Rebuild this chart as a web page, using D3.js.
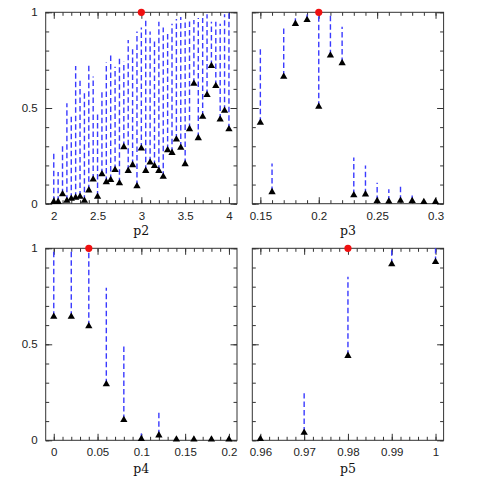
<!DOCTYPE html>
<html>
<head>
<meta charset="utf-8">
<script src="https://cdn.jsdelivr.net/npm/d3@7/dist/d3.min.js"></script>
<style>
  body { margin: 0; background: #fff; }
  svg { display: block; }
</style>
</head>
<body>
<script>
// ---- data ----
var p2X = [2, 2.05, 2.1, 2.15, 2.2, 2.25, 2.3, 2.35, 2.4, 2.45, 2.5, 2.55, 2.6, 2.65, 2.7, 2.75, 2.8, 2.85, 2.9, 2.95,
           3, 3.05, 3.1, 3.15, 3.2, 3.25, 3.3, 3.35, 3.4, 3.45, 3.5, 3.55, 3.6, 3.65, 3.7, 3.75, 3.8, 3.85, 3.9, 3.95, 4];
var p2Low = [0.01, 0.01, 0.05, 0.016, 0.026, 0.031, 0.037, 0.016, 0.07, 0.127, 0.037, 0.154, 0.113, 0.124, 0.176, 0.107,
             0.296, 0.172, 0.202, 0.092, 0.289, 0.172, 0.216, 0.197, 0.172, 0.141, 0.28, 0.266, 0.336, 0.293, 0.207,
             0.39, 0.627, 0.343, 0.455, 0.568, 0.72, 0.615, 0.44, 0.486, 0.389];
var p2High = [0.263, 0.165, 0.307, 0.525, 0.46, 0.72, 0.643, 0.577, 0.735, 0.664, 0.472, 0.598, 0.738, 0.78, 0.715, 0.772,
              0.742, 0.855, 0.807, 0.9, 0.92, 0.97, 0.9, 0.86, 0.95, 0.92, 0.89, 0.94, 0.965, 0.975, 0.96,
              0.965, 0.96, 0.97, 0.97, 0.99, 0.95, 0.95, 0.94, 0.99, 0.995];

var p3X = [0.15, 0.16, 0.17, 0.18, 0.19, 0.2, 0.21, 0.22, 0.23, 0.24, 0.25, 0.26, 0.27, 0.28, 0.29, 0.3];
var p3Low = [0.423, 0.061, 0.664, 0.94, 0.96, 0.507, 0.775, 0.735, 0.045, 0.049, 0.014, 0.012, 0.016, 0.014, 0.009, 0.01];
var p3High = [0.812, 0.21, 0.916, 0.977, 0.995, 0.995, 0.986, 0.925, 0.242, 0.199, 0.11, 0.075, 0.1, 0.045, 0.014, 0.012];

var p4X = [0, 0.02, 0.04, 0.06, 0.08, 0.1, 0.12, 0.14, 0.16, 0.18, 0.2];
var p4Low = [0.644, 0.644, 0.594, 0.292, 0.106, 0.007, 0.026, 0.005, 0.005, 0.005, 0.005];
var p4High = [0.99, 0.99, 0.99, 0.795, 0.497, 0.036, 0.149, 0.01, 0.008, 0.008, 0.008];

var p5X = [0.96, 0.97, 0.98, 0.99, 1];
var p5Low = [0.007, 0.04, 0.44, 0.917, 0.929];
var p5High = [0.01, 0.245, 0.852, 1, 1];

var paramNames = ["p2", "p3", "p4", "p5"];
var bestValue = [3, 0.2, 0.04, 0.98];

var p2Ticks = [2, 2.5, 3, 3.5, 4];
var p3Ticks = [0.15, 0.2, 0.25, 0.3];
var p4Ticks = [0, 0.05, 0.1, 0.15, 0.2];
var p5Ticks = [0.96, 0.97, 0.98, 0.99, 1];
var minorStep = [0.1, 0.01, 0.01, 0.002];
var yTicks = [0, 0.5, 1];

// ---- layout ----
var W = 485, H = 485;
var cols = [45.7, 252.3], colW = 191.3;
var rows = [12.3, 248.3], rowH = [191.4, 192];
var labelDrop = [31.5, 33];

var svg = d3.select("body").append("svg").attr("width", W).attr("height", H);

var panels = [
  { xs: p2X, lo: p2Low, hi: p2High, ticks: p2Ticks },
  { xs: p3X, lo: p3Low, hi: p3High, ticks: p3Ticks },
  { xs: p4X, lo: p4Low, hi: p4High, ticks: p4Ticks },
  { xs: p5X, lo: p5Low, hi: p5High, ticks: p5Ticks }
];

function fmt(d) { return String(+d.toFixed(4)); }

function minorList(domain, step) {
  var out = [];
  var start = Math.ceil(domain[0] / step - 1e-9);
  for (var k = start; k * step <= domain[1] + 1e-9; k++) out.push(+(k * step).toFixed(6));
  return out;
}

panels.forEach(function (p, i) {
  var c = i % 2, r = Math.floor(i / 2);
  var left = cols[c], top = rows[r], w = colW, h = rowH[r];
  var ext = d3.extent(p.xs), pad = (ext[1] - ext[0]) * 0.046;
  var x = d3.scaleLinear().domain([ext[0] - pad, ext[1] + pad]).range([0, w]);
  var y = d3.scaleLinear().domain([0, 1]).range([h, 0]);

  var g = svg.append("g").attr("transform", "translate(" + left + "," + top + ")");

  var minX = minorList(x.domain(), minorStep[i]);
  var minY = minorList([0, 1], 0.1);

  function addAxis(axisFn, scale, vals, size, tr, labels) {
    var a = axisFn(scale).tickValues(vals).tickSizeInner(-size).tickSizeOuter(0).tickPadding(8);
    a.tickFormat(labels ? fmt : "");
    var ag = g.append("g").attr("transform", tr).call(a);
    ag.select(".domain").remove();
    ag.selectAll("text").attr("fill", "#222").attr("font-family", "Liberation Sans, Arial, sans-serif").attr("font-size", 11.5);
    ag.selectAll(".tick line").attr("stroke", "#333");
    return ag;
  }

  // minor ticks on all sides
  addAxis(d3.axisBottom, x, minX, 3.5, "translate(0," + h + ")", false);
  addAxis(d3.axisTop, x, minX, 3.5, "translate(0,0)", false);
  addAxis(d3.axisLeft, y, minY, 3.5, "translate(0,0)", false);
  addAxis(d3.axisRight, y, minY, 3.5, "translate(" + w + ",0)", false);
  // major ticks
  addAxis(d3.axisBottom, x, p.ticks, 6.5, "translate(0," + h + ")", true);
  addAxis(d3.axisTop, x, p.ticks, 6.5, "translate(0,0)", false);
  addAxis(d3.axisLeft, y, yTicks, 6.5, "translate(0,0)", c === 0);
  addAxis(d3.axisRight, y, yTicks, 6.5, "translate(" + w + ",0)", false);

  g.append("rect").attr("width", w).attr("height", h)
    .attr("fill", "none").attr("stroke", "#333").attr("stroke-width", 1);

  var rowsData = p.xs.map(function (v, k) { return { x: v, lo: p.lo[k], hi: p.hi[k] }; });

  g.selectAll("line.rng").data(rowsData).enter().append("line")
    .attr("class", "rng")
    .attr("x1", function (d) { return x(d.x); })
    .attr("x2", function (d) { return x(d.x); })
    .attr("y1", function (d) { return y(d.lo); })
    .attr("y2", function (d) { return y(d.hi); })
    .attr("stroke", "#3a3aff")
    .attr("stroke-width", 1.4)
    .attr("stroke-dasharray", "5.5,3");

  g.selectAll("path.tri").data(rowsData).enter().append("path")
    .attr("class", "tri")
    .attr("d", d3.symbol().type(d3.symbolTriangle).size(23))
    .attr("transform", function (d) { return "translate(" + x(d.x) + "," + y(d.lo) + ")"; })
    .attr("fill", "#000");

  g.append("circle")
    .attr("cx", x(bestValue[i])).attr("cy", y(1)).attr("r", 3.6)
    .attr("fill", "#f01010");

  g.append("text")
    .attr("x", w / 2).attr("y", h + labelDrop[r])
    .attr("text-anchor", "middle")
    .attr("font-family", "DejaVu Serif, serif")
    .attr("font-size", 12.5)
    .attr("fill", "#111")
    .text(paramNames[i]);
});
</script>
</body>
</html>
